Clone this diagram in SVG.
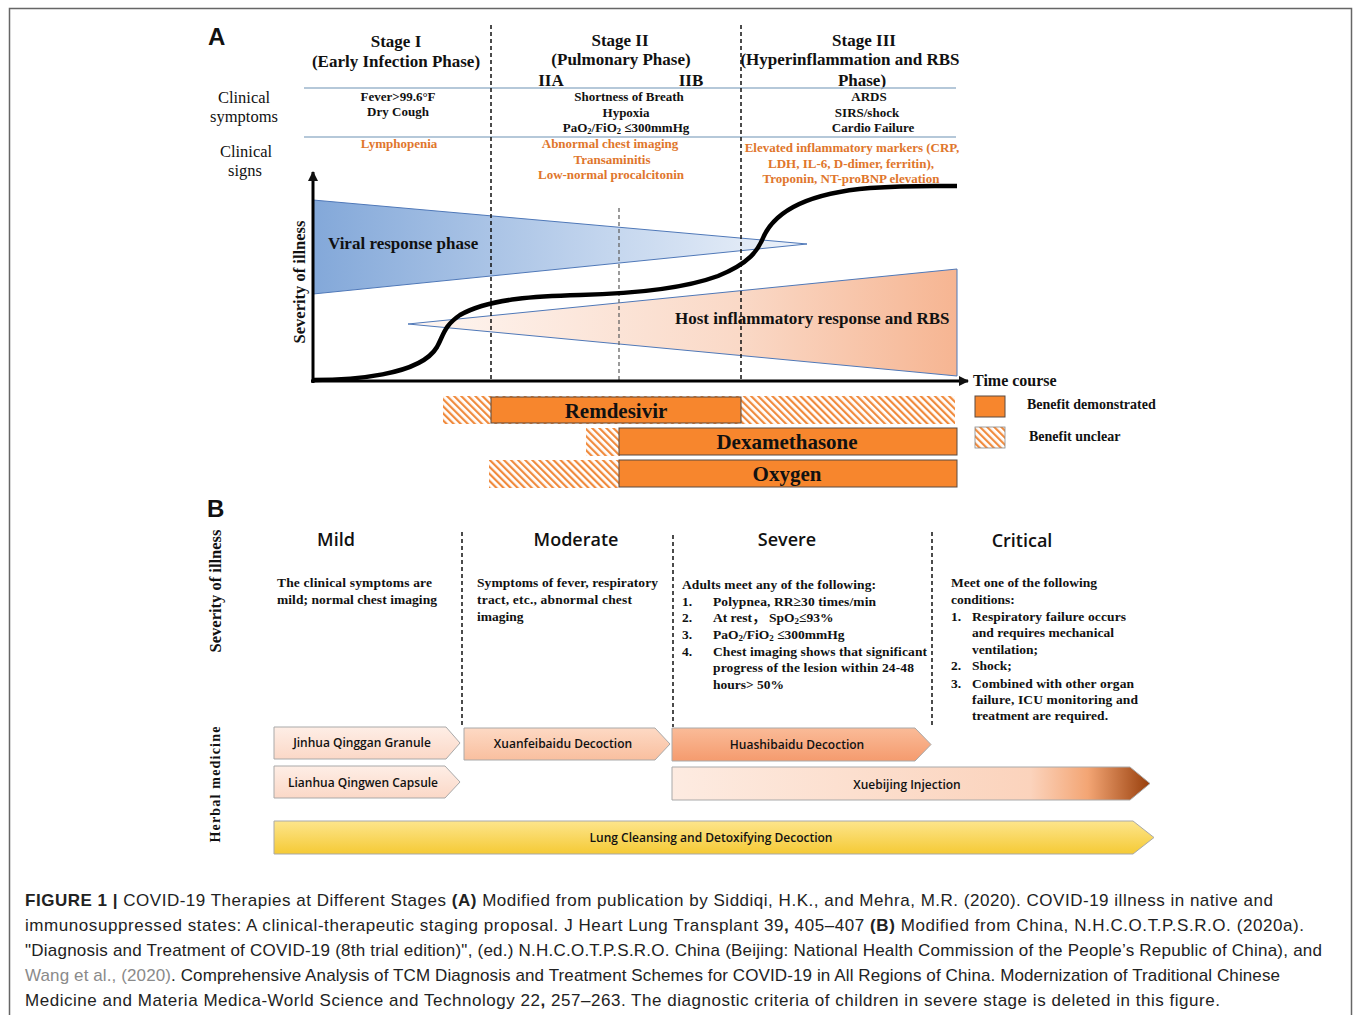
<svg xmlns="http://www.w3.org/2000/svg" width="1355" height="1015" viewBox="0 0 1355 1015">
<defs>
<style>
.serif{font-family:"Liberation Serif","Times New Roman",serif;}
.b{font-weight:bold;}
.hdr{font-family:"Liberation Serif",serif;font-weight:bold;font-size:17px;fill:#111;text-anchor:middle;}
.lab{font-family:"Liberation Serif",serif;font-size:16.5px;fill:#111;text-anchor:middle;}
.sym{font-family:"Liberation Serif",serif;font-weight:bold;font-size:13px;fill:#111;text-anchor:middle;}
.sig{font-family:"Liberation Serif",serif;font-weight:bold;font-size:13px;fill:#e0762c;text-anchor:middle;}
.big{font-family:"Liberation Serif",serif;font-weight:bold;font-size:17px;fill:#111;}
.bar{font-family:"Liberation Serif",serif;font-weight:bold;font-size:21px;fill:#111;text-anchor:middle;}
.leg{font-family:"Liberation Serif",serif;font-weight:bold;font-size:14px;fill:#111;}
.sev{font-family:"Open Sans","Liberation Sans",sans-serif;font-weight:600;font-size:18px;fill:#111;text-anchor:middle;}
.bt{font-family:"Liberation Serif","Noto Sans CJK SC",serif;font-weight:bold;font-size:13.5px;fill:#111;}
.herb{font-family:"Open Sans","Liberation Sans",sans-serif;font-weight:600;font-size:12px;fill:#111;text-anchor:middle;}
.cap{font-family:"Liberation Sans",Arial,sans-serif;font-size:17px;fill:#222;}
.dash{stroke:#111;stroke-width:1.5;stroke-dasharray:4 3;fill:none;}
.hline{stroke:#9cb6cc;stroke-width:1.5;}
.solid{fill:#f7862d;stroke:#5b4a40;stroke-width:1;}
.hatch{fill:url(#hatch);}
.arr{stroke:#a9a9a9;stroke-width:1;}
</style>
<pattern id="hatch" patternUnits="userSpaceOnUse" width="5" height="5" patternTransform="rotate(-45)">
<rect width="5" height="5" fill="#fff"/>
<rect width="2.2" height="5" fill="#f08a3c"/>
</pattern>
<linearGradient id="gBlue" gradientUnits="userSpaceOnUse" x1="313" y1="0" x2="807" y2="0">
<stop offset="0" stop-color="#83a8d9"/><stop offset="0.6" stop-color="#c4d6ee"/><stop offset="1" stop-color="#eef3fa"/>
</linearGradient>
<linearGradient id="gOrange" gradientUnits="userSpaceOnUse" x1="408" y1="0" x2="957" y2="0">
<stop offset="0" stop-color="#fef6f2"/><stop offset="0.6" stop-color="#fad9c7"/><stop offset="1" stop-color="#f6b592"/>
</linearGradient>
<linearGradient id="gPeach" x1="0" y1="0" x2="0" y2="1">
<stop offset="0" stop-color="#feeee6"/><stop offset="1" stop-color="#fbd8c7"/>
</linearGradient>
<linearGradient id="gPeach2" x1="0" y1="0" x2="0" y2="1">
<stop offset="0" stop-color="#fdd9c4"/><stop offset="1" stop-color="#f9bf9f"/>
</linearGradient>
<linearGradient id="gPeach3" x1="0" y1="0" x2="0" y2="1">
<stop offset="0" stop-color="#fabb98"/><stop offset="1" stop-color="#f59b6e"/>
</linearGradient>
<linearGradient id="gXue" x1="0" y1="0" x2="1" y2="0">
<stop offset="0" stop-color="#fdebe1"/><stop offset="0.75" stop-color="#fbd3bc"/><stop offset="0.87" stop-color="#f3a574"/><stop offset="1" stop-color="#983f0c"/>
</linearGradient>
<linearGradient id="gYel" x1="0" y1="0" x2="0" y2="1">
<stop offset="0" stop-color="#fde58c"/><stop offset="1" stop-color="#f5ca35"/>
</linearGradient>
<marker id="ah" markerWidth="10" markerHeight="10" refX="9" refY="5" orient="auto" markerUnits="userSpaceOnUse">
<path d="M0,0 L10,5 L0,10 Z" fill="#111"/>
</marker>
</defs>

<rect x="9.5" y="8.5" width="1342" height="1012" fill="#fff" stroke="#666" stroke-width="1.5"/>

<!-- Panel A -->
<g id="panelA-label"><text x="208" y="45" font-family="Liberation Sans,Arial,sans-serif" font-weight="bold" font-size="24" fill="#111">A</text></g>

<g id="stage-headers">
<text class="hdr" x="396" y="47">Stage I</text>
<text class="hdr" x="396" y="67">(Early Infection Phase)</text>
<text class="hdr" x="620" y="46">Stage II</text>
<text class="hdr" x="621" y="65">(Pulmonary Phase)</text>
<text class="hdr" x="551" y="86">IIA</text>
<text class="hdr" x="691" y="86">IIB</text>
<text class="hdr" x="864" y="46">Stage III</text>
<text class="hdr" x="850" y="65">(Hyperinflammation and RBS</text>
<text class="hdr" x="862" y="86">Phase)</text>
</g>

<g id="row-labels">
<text class="lab" x="244" y="103">Clinical</text>
<text class="lab" x="244" y="122">symptoms</text>
<text class="lab" x="246" y="157">Clinical</text>
<text class="lab" x="245" y="176">signs</text>
</g>

<g id="grid-lines">
<line class="hline" x1="304" y1="88" x2="956" y2="88"/>
<line class="hline" x1="304" y1="137" x2="956" y2="137"/>
</g>

<g id="symptoms">
<text class="sym" x="398" y="101">Fever&gt;99.6°F</text>
<text class="sym" x="398" y="116">Dry Cough</text>
<text class="sym" x="629" y="101">Shortness of Breath</text>
<text class="sym" x="626" y="117">Hypoxia</text>
<text class="sym" x="626" y="132">PaO<tspan font-size="8.5" dy="2">2</tspan><tspan dy="-2">/FiO</tspan><tspan font-size="8.5" dy="2">2</tspan><tspan dy="-2"> ≤300mmHg</tspan></text>
<text class="sym" x="869" y="101">ARDS</text>
<text class="sym" x="867" y="117">SIRS/shock</text>
<text class="sym" x="873" y="132">Cardio Failure</text>
</g>

<g id="signs">
<text class="sig" x="399" y="148">Lymphopenia</text>
<text class="sig" x="610" y="148">Abnormal chest imaging</text>
<text class="sig" x="612" y="164">Transaminitis</text>
<text class="sig" x="611" y="179">Low-normal procalcitonin</text>
<text class="sig" x="852" y="152">Elevated inflammatory markers (CRP,</text>
<text class="sig" x="851" y="168">LDH, IL-6, D-dimer, ferritin),</text>
<text class="sig" x="851" y="183">Troponin, NT-proBNP elevation</text>
</g>

<g id="viral-phase">
<polygon points="313,200 807,244 313,294" fill="url(#gBlue)" stroke="#4f78b8" stroke-width="1"/>
</g>
<g id="host-phase">
<polygon points="408,324 957,269 957,376" fill="url(#gOrange)" stroke="#4f78b8" stroke-width="1"/>
</g>

<g id="connectors">
<line class="dash" x1="491" y1="25" x2="491" y2="381"/>
<line class="dash" x1="741" y1="25" x2="741" y2="381"/>
<line x1="619" y1="208" x2="619" y2="380" stroke="#666" stroke-width="1.3" stroke-dasharray="4 3"/>
<path d="M313,380 C350,380 420,376 437,347 C444,334 444,326 460,315 C490,298 540,296 580,295 C620,294 680,290 718,276 C750,263 758,250 763,238 C775,210 810,193 870,188 C910,185 940,186 957,186" fill="none" stroke="#000" stroke-width="4.5"/>
<line x1="313" y1="383" x2="313" y2="172" stroke="#000" stroke-width="3" marker-end="url(#ah)"/>
<line x1="311" y1="381" x2="968" y2="381" stroke="#000" stroke-width="3" marker-end="url(#ah)"/>
<line class="dash" x1="462" y1="532" x2="462" y2="725"/>
<line class="dash" x1="673" y1="535" x2="673" y2="727"/>
<line class="dash" x1="932" y1="532" x2="932" y2="725"/>
</g>

<g id="phase-labels">
<text class="big" x="328" y="249">Viral response phase</text>
<text class="big" x="675" y="324">Host inflammatory response and RBS</text>
</g>

<g id="axis-labels">
<text class="serif b" font-size="16.5" fill="#111" text-anchor="middle" transform="translate(305,282) rotate(-90)">Severity of illness</text>
<text class="serif b" font-size="16" fill="#111" x="973" y="386">Time course</text>
</g>

<g id="remdesivir">
<rect class="hatch" x="443" y="396" width="512" height="28"/>
<rect class="solid" x="491" y="397" width="250" height="26"/>
<text class="bar" x="616" y="418">Remdesivir</text>
</g>
<g id="dexamethasone">
<rect class="hatch" x="586" y="428" width="34" height="28"/>
<rect class="solid" x="619" y="428" width="338" height="27"/>
<text class="bar" x="787" y="449">Dexamethasone</text>
</g>
<g id="oxygen">
<rect class="hatch" x="489" y="460" width="131" height="28"/>
<rect class="solid" x="619" y="460" width="338" height="27"/>
<text class="bar" x="787" y="481">Oxygen</text>
</g>
<g id="legend">
<rect class="solid" x="975" y="396" width="30" height="21"/>
<text class="leg" x="1027" y="409">Benefit demonstrated</text>
<rect class="hatch" x="975" y="427" width="30" height="21" stroke="#888" stroke-width="0.8"/>
<text class="leg" x="1029" y="441">Benefit unclear</text>
</g>

<!-- Panel B -->
<g id="panelB-label"><text x="207" y="517" font-family="Liberation Sans,Arial,sans-serif" font-weight="bold" font-size="24" fill="#111">B</text></g>
<g id="b-axis-labels">
<text class="serif b" font-size="16.5" fill="#111" text-anchor="middle" transform="translate(221,591) rotate(-90)">Severity of illness</text>
<text class="serif b" font-size="14" fill="#111" text-anchor="middle" letter-spacing="1.2" transform="translate(220,784) rotate(-90)">Herbal medicine</text>
</g>

<g id="mild">
<text class="sev" x="336" y="546">Mild</text>
<text class="bt" x="277" y="587" textLength="155" lengthAdjust="spacing">The clinical symptoms are</text>
<text class="bt" x="277" y="604" textLength="160" lengthAdjust="spacing">mild; normal chest imaging</text>
</g>
<g id="moderate">
<text class="sev" x="576" y="546">Moderate</text>
<text class="bt" x="477" y="587" textLength="181" lengthAdjust="spacing">Symptoms of fever, respiratory</text>
<text class="bt" x="477" y="604" textLength="155" lengthAdjust="spacing">tract, etc., abnormal chest</text>
<text class="bt" x="477" y="621">imaging</text>
</g>
<g id="severe">
<text class="sev" x="787" y="546">Severe</text>
<text class="bt" x="682" y="589" textLength="194" lengthAdjust="spacing">Adults meet any of the following:</text>
<text class="bt" x="682" y="606">1.</text><text class="bt" x="713" y="606" textLength="163" lengthAdjust="spacing">Polypnea, RR≥30 times/min</text>
<text class="bt" x="682" y="622">2.</text><text class="bt" x="713" y="622">At rest， SpO<tspan font-size="9" dy="2">2</tspan><tspan dy="-2">≤93%</tspan></text>
<text class="bt" x="682" y="639">3.</text><text class="bt" x="713" y="639">PaO<tspan font-size="9" dy="2">2</tspan><tspan dy="-2">/FiO</tspan><tspan font-size="9" dy="2">2</tspan><tspan dy="-2"> ≤300mmHg</tspan></text>
<text class="bt" x="682" y="656">4.</text><text class="bt" x="713" y="656" textLength="214" lengthAdjust="spacing">Chest imaging shows that significant</text>
<text class="bt" x="713" y="672" textLength="201" lengthAdjust="spacing">progress of the lesion within 24-48</text>
<text class="bt" x="713" y="689">hours&gt; 50%</text>
</g>
<g id="critical">
<text class="sev" x="1022" y="547">Critical</text>
<text class="bt" x="951" y="587" textLength="146" lengthAdjust="spacing">Meet one of the following</text>
<text class="bt" x="951" y="604">conditions:</text>
<text class="bt" x="951" y="621">1.</text><text class="bt" x="972" y="621" textLength="154" lengthAdjust="spacing">Respiratory failure occurs</text>
<text class="bt" x="972" y="637" textLength="142" lengthAdjust="spacing">and requires mechanical</text>
<text class="bt" x="972" y="654">ventilation;</text>
<text class="bt" x="951" y="670">2.</text><text class="bt" x="972" y="670">Shock;</text>
<text class="bt" x="951" y="688">3.</text><text class="bt" x="972" y="688" textLength="162" lengthAdjust="spacing">Combined with other organ</text>
<text class="bt" x="972" y="704" textLength="166" lengthAdjust="spacing">failure, ICU monitoring and</text>
<text class="bt" x="972" y="720" textLength="136" lengthAdjust="spacing">treatment are required.</text>
</g>

<g id="jinhua">
<polygon class="arr" points="274,727 446,727 460,743 446,759 274,759" fill="url(#gPeach)"/>
<text class="herb" x="362" y="747">Jinhua Qinggan Granule</text>
</g>
<g id="xuanfeibaidu">
<polygon class="arr" points="464,728 655,728 670,744 655,760 464,760" fill="url(#gPeach2)"/>
<text class="herb" x="563" y="748">Xuanfeibaidu Decoction</text>
</g>
<g id="huashibaidu">
<polygon class="arr" points="672,728 915,728 931,744.5 915,761 672,761" fill="url(#gPeach3)"/>
<text class="herb" x="797" y="749">Huashibaidu Decoction</text>
</g>
<g id="lianhua">
<polygon class="arr" points="274,766 445,766 460,782 445,798 274,798" fill="url(#gPeach)"/>
<text class="herb" x="363" y="787">Lianhua Qingwen Capsule</text>
</g>
<g id="xuebijing">
<polygon class="arr" points="672,767 1130,767 1150,783.5 1130,800 672,800" fill="url(#gXue)"/>
<text class="herb" x="907" y="789">Xuebijing Injection</text>
</g>
<g id="lung-cleansing">
<polygon class="arr" points="274,821 1133,821 1154,837.5 1133,854 274,854" fill="url(#gYel)"/>
<text class="herb" x="711" y="842">Lung Cleansing and Detoxifying Decoction</text>
</g>

<g id="caption">
<text class="cap" x="25" y="906" textLength="1248" lengthAdjust="spacing"><tspan font-weight="bold">FIGURE 1 |</tspan> COVID-19 Therapies at Different Stages <tspan font-weight="bold">(A)</tspan> Modified from publication by Siddiqi, H.K., and Mehra, M.R. (2020). COVID-19 illness in native and</text>
<text class="cap" x="25" y="931" textLength="1279" lengthAdjust="spacing">immunosuppressed states: A clinical-therapeutic staging proposal. J Heart Lung Transplant 39<tspan font-weight="bold">,</tspan> 405–407 <tspan font-weight="bold">(B)</tspan> Modified from China, N.H.C.O.T.P.S.R.O. (2020a).</text>
<text class="cap" x="25" y="956" textLength="1297" lengthAdjust="spacing">"Diagnosis and Treatment of COVID-19 (8th trial edition)", (ed.) N.H.C.O.T.P.S.R.O. China (Beijing: National Health Commission of the People’s Republic of China), and</text>
<text class="cap" x="25" y="981" textLength="1255" lengthAdjust="spacing"><tspan fill="#8a8a8a">Wang et al., (2020)</tspan>. Comprehensive Analysis of TCM Diagnosis and Treatment Schemes for COVID-19 in All Regions of China. Modernization of Traditional Chinese</text>
<text class="cap" x="25" y="1006" textLength="1195" lengthAdjust="spacing">Medicine and Materia Medica-World Science and Technology 22<tspan font-weight="bold">,</tspan> 257–263. The diagnostic criteria of children in severe stage is deleted in this figure.</text>
</g>
</svg>
